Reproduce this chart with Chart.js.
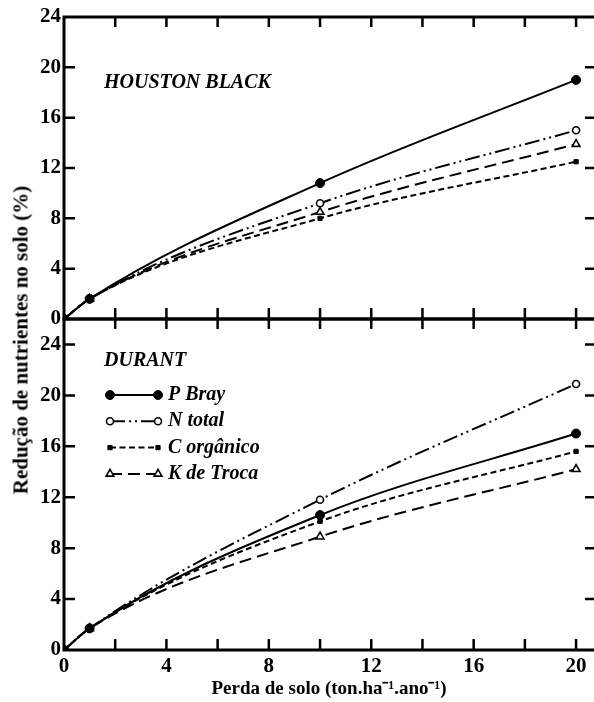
<!DOCTYPE html>
<html>
<head>
<meta charset="utf-8">
<script src="https://cdn.jsdelivr.net/npm/chart.js@4/dist/chart.umd.min.js"></script>
<style>
  body { margin: 0; background: #fff; }
  #wrap { position: relative; width: 594px; height: 702px; overflow: hidden; }
  canvas { position: absolute; left: 0; }
  #ytitle {
    position: absolute; left: 21px; top: 340px;
    transform: translate(-50%, -50%) rotate(-90deg);
    white-space: nowrap; font: bold 21px "Liberation Serif", serif; color: #000;
  }
</style>
</head>
<body>
<div id="wrap">
  <canvas id="chartTop" width="594" height="335" style="top:0;width:594px;height:335px"></canvas>
  <canvas id="chartBot" width="594" height="402" style="top:300px;width:594px;height:402px"></canvas>
  <div id="ytitle">Redução de nutrientes no solo (%)</div>
</div>
<script>
// soil loss (ton/ha/yr) at which samples were taken
const soilLoss = [0, 1, 10, 20];
const seriesNames = ["P Bray", "N total", "C orgânico", "K de Troca"];

// HOUSTON BLACK
const houstonPBray = [0, 1.6, 10.8, 19.0];
const houstonNTotal = [0, 1.6, 9.2, 15.0];
const houstonCOrg = [0, 1.6, 8.0, 12.5];
const houstonKTroca = [0, 1.6, 8.5, 13.9];

// DURANT
const durantPBray = [0, 1.7, 10.6, 17.0];
const durantNTotal = [0, 1.7, 11.8, 20.9];
const durantCOrg = [0, 1.7, 10.1, 15.6];
const durantKTroca = [0, 1.7, 8.9, 14.2];

const xTickLabels = [0, 4, 8, 12, 16, 20];
const xMinorTicks = [2, 4, 6, 8, 10, 12, 14, 16, 18, 20];
const yTickLabels = [0, 4, 8, 12, 16, 20, 24];

Chart.defaults.font.family = '"Liberation Serif", serif';
Chart.defaults.color = "#000";

const ink = "#000";
const tickFont = { size: 21, weight: "bold" };

const styles = [
  { borderDash: [], pointStyle: "circle", pointRadius: 4.5, pointBackgroundColor: ink, pointBorderWidth: 1 },
  { borderDash: [15, 4, 2, 4, 2, 4], pointStyle: "circle", pointRadius: 3.5, pointBackgroundColor: "#fff", pointBorderWidth: 1.6 },
  { borderDash: [6, 3.5], pointStyle: "rect", pointRadius: 3, pointBackgroundColor: ink, pointBorderWidth: 1 },
  { borderDash: [12, 6], pointStyle: "triangle", pointRadius: 4.5, pointBackgroundColor: "#fff", pointBorderWidth: 1.6 },
];

function makeSets(groups) {
  return groups.map((vals, i) => ({
    label: seriesNames[i],
    data: soilLoss.map((x, j) => ({ x, y: vals[j] })),
    borderColor: ink,
    borderWidth: 2,
    pointBorderColor: ink,
    cubicInterpolationMode: "monotone",
    ...styles[i],
  }));
}

// frame with inward ticks + panel name
const framePlugin = {
  id: "frame",
  afterDraw(chart, args, opts) {
    const { ctx, chartArea: a } = chart;
    const x = chart.scales.x, y = chart.scales.y;
    ctx.save();
    ctx.strokeStyle = ink;
    ctx.setLineDash([]);
    ctx.lineWidth = 3;
    ctx.beginPath();
    ctx.moveTo(a.right + 2, a.top);
    ctx.lineTo(a.left, a.top);
    ctx.lineTo(a.left, a.bottom);
    ctx.lineTo(a.right + 2, a.bottom);
    ctx.stroke();
    ctx.lineWidth = 2.5;
    ctx.beginPath();
    xMinorTicks.forEach(v => {
      const px = x.getPixelForValue(v);
      ctx.moveTo(px, a.top); ctx.lineTo(px, a.top + 10);
      ctx.moveTo(px, a.bottom); ctx.lineTo(px, a.bottom - 11);
    });
    opts.yTicks.forEach(v => {
      const py = y.getPixelForValue(v);
      ctx.moveTo(a.left, py); ctx.lineTo(a.left + 11, py);
      ctx.moveTo(a.right, py); ctx.lineTo(a.right - 9, py);
    });
    ctx.stroke();
    ctx.fillStyle = ink;
    ctx.font = 'italic bold 20px "Liberation Serif", serif';
    ctx.textBaseline = "alphabetic";
    ctx.fillText(opts.label, a.left + opts.dx, a.top + opts.dy);
    ctx.restore();
  },
};

// legend drawn inside the lower panel
const innerLegend = {
  id: "innerLegend",
  afterDraw(chart, args, opts) {
    if (!opts.show) return;
    const { ctx, chartArea: a } = chart;
    ctx.save();
    chart.data.datasets.forEach((ds, i) => {
      const yy = a.top + 76 + i * 26.3;
      const x0 = 110, x1 = 158;
      ctx.strokeStyle = ink;
      ctx.lineWidth = 2;
      ctx.setLineDash(ds.borderDash);
      ctx.beginPath();
      ctx.moveTo(x0, yy); ctx.lineTo(x1, yy);
      ctx.stroke();
      ctx.setLineDash([]);
      ctx.fillStyle = ds.pointBackgroundColor;
      ctx.lineWidth = ds.pointBorderWidth;
      [x0, x1].forEach(px => Chart.helpers.drawPoint(ctx, {
        pointStyle: ds.pointStyle, rotation: 0, radius: ds.pointRadius, borderWidth: ds.pointBorderWidth,
      }, px, yy));
      ctx.fillStyle = ink;
      ctx.font = 'italic bold 20px "Liberation Serif", serif';
      ctx.textBaseline = "middle";
      ctx.fillText(ds.label, 168, yy);
    });
    ctx.restore();
  },
};

function yAxis(max) {
  return {
    min: 0, max,
    grid: { display: false, drawTicks: false },
    border: { display: false },
    ticks: { padding: 3, font: tickFont, color: ink },
    afterBuildTicks: s => { s.ticks = yTickLabels.map(v => ({ value: v })); },
    afterFit: s => { s.width = 64; },
  };
}

new Chart(document.getElementById("chartTop"), {
  type: "line",
  data: { datasets: makeSets([houstonPBray, houstonNTotal, houstonCOrg, houstonKTroca]) },
  options: {
    responsive: false,
    animation: false,
    devicePixelRatio: 1,
    layout: { autoPadding: false, padding: { top: 17, bottom: 16, left: 0, right: 0 } },
    plugins: {
      legend: { display: false },
      tooltip: { enabled: false },
      frame: { yTicks: [4, 8, 12, 16, 20], label: "HOUSTON BLACK", dx: 40, dy: 71 },
      innerLegend: { show: false },
    },
    scales: {
      x: { type: "linear", min: 0, max: 20.7, display: false },
      y: yAxis(24),
    },
  },
  plugins: [framePlugin, innerLegend],
});

new Chart(document.getElementById("chartBot"), {
  type: "line",
  data: { datasets: makeSets([durantPBray, durantNTotal, durantCOrg, durantKTroca]) },
  options: {
    responsive: false,
    animation: false,
    devicePixelRatio: 1,
    layout: { autoPadding: false, padding: { top: 19, bottom: 0, left: 0, right: 0 } },
    plugins: {
      legend: { display: false },
      tooltip: { enabled: false },
      frame: { yTicks: [4, 8, 12, 16, 20, 24], label: "DURANT", dx: 40, dy: 47 },
      innerLegend: { show: true },
    },
    scales: {
      x: {
        type: "linear", min: 0, max: 20.7,
        grid: { display: false, drawTicks: false },
        border: { display: false },
        ticks: { padding: 4, font: tickFont, color: ink },
        afterBuildTicks: s => { s.ticks = xTickLabels.map(v => ({ value: v })); },
        title: {
          display: true, text: "Perda de solo (ton.ha⁻¹.ano⁻¹)", color: ink,
          font: { size: 19, weight: "bold" }, padding: { top: 0, bottom: 2 },
        },
        afterFit: s => { s.height = 52; },
      },
      y: yAxis(26),
    },
  },
  plugins: [framePlugin, innerLegend],
});
</script>
</body>
</html>
